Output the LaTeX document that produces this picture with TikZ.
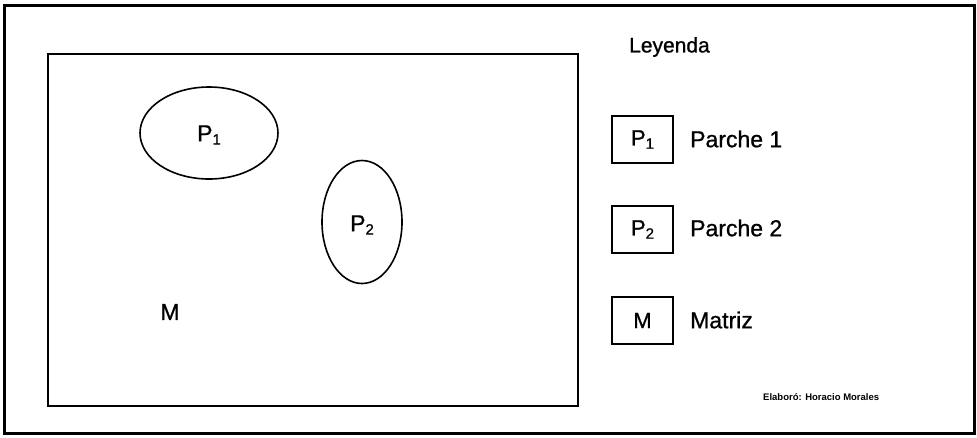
\documentclass[tikz,border=0pt]{standalone}
\usepackage{fontspec}
\setmainfont{Liberation Sans}
\newfontfamily\heavyfont[FakeBold=0.9]{Liberation Sans}
\newcommand{\mysub}[1]{\raisebox{-0.28ex}{\fontsize{15}{15}\selectfont #1}}
\usetikzlibrary{shapes.geometric}
\begin{document}
\begin{tikzpicture}[x=1pt,y=-1pt,
  lbl/.style={font=\heavyfont\fontsize{23}{26}\selectfont, inner sep=0pt},
  keybox/.style={draw, line width=1.6pt, minimum width=61pt, minimum height=47pt, inner sep=0pt, font=\heavyfont\fontsize{22}{26}\selectfont},
  patch/.style={draw, line width=1.6pt, ellipse, inner sep=0pt}]
\useasboundingbox (0,0) rectangle (977,437);
\node[draw, line width=3pt, minimum width=970pt, minimum height=428pt, inner sep=0pt] (frame) at (489,219) {};
\node[draw, line width=1.8pt, minimum width=530pt, minimum height=352pt, inner sep=0pt] (matrix) at (313,230) {};
\node[patch, minimum width=138pt, minimum height=92pt] (p1) at (209,133) {};
\node[lbl] (p1t) at (209,135) {P\mysub{1}};
\node[patch, minimum width=80pt, minimum height=123pt] (p2) at (362,222) {};
\node[lbl] (p2t) at (362,225) {P\mysub{2}};
\node[lbl] (mt) at (170,312) {M};
\node[anchor=west, inner sep=0pt, font=\heavyfont\fontsize{21}{24}\selectfont] (ley) at (629,47) {Leyenda};
\node[keybox] (k1) at (642.5,139.5) {P\mysub{1}};
\node[keybox] (k2) at (642.5,229.5) {P\mysub{2}};
\node[keybox] (k3) at (642.5,320.5) {M};
\node[lbl, anchor=west] (l1) at (690,139) {Parche 1};
\node[lbl, anchor=west] (l2) at (690,228) {Parche 2};
\node[lbl, anchor=west] (l3) at (690,320) {Matriz};
\node[anchor=west, inner sep=0pt, font=\bfseries\fontsize{9.5}{11}\selectfont] (auth) at (763,397) {Elaboró: Horacio Morales};
\end{tikzpicture}
\end{document}
